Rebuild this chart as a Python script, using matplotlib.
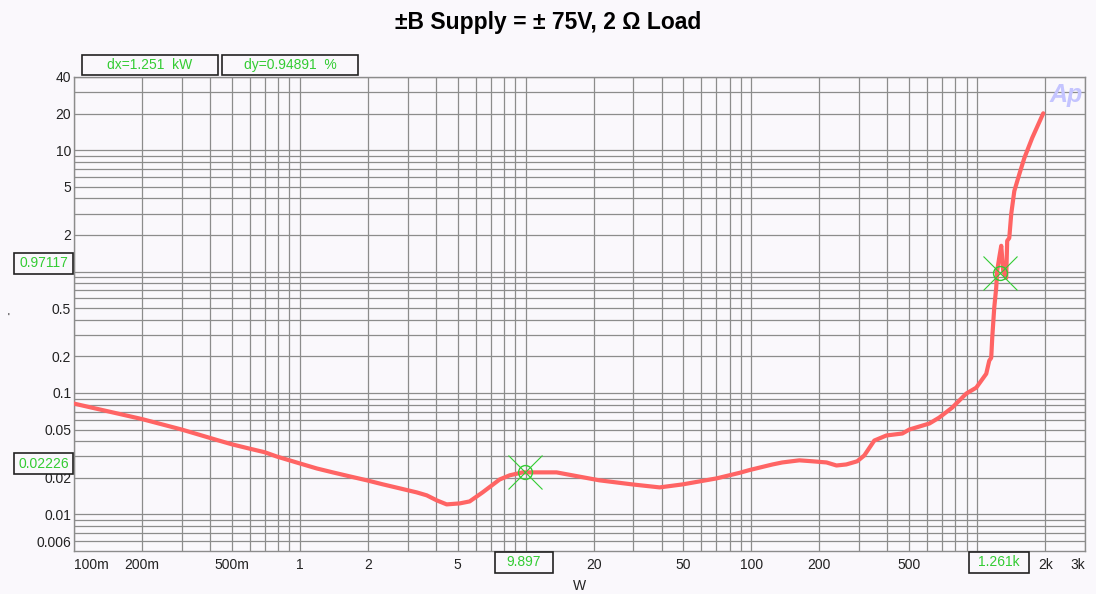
import matplotlib
matplotlib.use("Agg")
import matplotlib.pyplot as plt
from matplotlib.patches import Rectangle
from matplotlib.ticker import FixedLocator, FixedFormatter, NullFormatter

# ---------------- data ----------------
power_w = [0.1, 0.2, 0.3, 0.43, 0.5, 0.6, 0.7, 0.79, 1.0, 1.19, 1.40, 1.66, 1.98,
           2.33, 2.77, 3.29, 3.65, 4.04, 4.47, 5.11, 5.65, 6.45, 7.67, 8.5, 9.7,
           13.7, 21.2, 29.7, 39.2, 49.5, 70, 88.5, 98, 124, 137, 163, 186, 215,
           238, 263, 294, 316, 350, 396, 466, 500, 614, 679, 775, 894, 990, 1096,
           1130, 1153, 1165, 1189, 1213, 1225, 1251, 1277, 1303, 1343, 1357,
           1386, 1414, 1459, 1536, 1616, 1751, 1960]
thd_pct = [0.0818, 0.061, 0.050, 0.0410, 0.0378, 0.0348, 0.0325, 0.030, 0.0263,
           0.0239, 0.0222, 0.0206, 0.0191, 0.0177, 0.0164, 0.0152, 0.01436,
           0.01306, 0.0121, 0.01233, 0.0128, 0.0152, 0.0194, 0.0210, 0.0222,
           0.0222, 0.0191, 0.01767, 0.0167, 0.01767, 0.0198, 0.0220, 0.0232,
           0.0258, 0.0268, 0.0279, 0.0274, 0.0268, 0.0253, 0.0258, 0.0274,
           0.0306, 0.0406, 0.0447, 0.0464, 0.0500, 0.0561, 0.0628, 0.0759,
           0.0989, 0.1107, 0.144, 0.1845, 0.195, 0.285, 0.503, 0.734, 1.01,
           1.30, 1.63, 1.01, 0.887, 1.79, 1.89, 2.98, 4.60, 6.35, 8.6, 12.6, 20.1]

cursor_x = [9.897, 1261]
cursor_y = [0.02226, 0.97117]

x_ticks = [0.1, 0.2, 0.5, 1, 2, 5, 10, 20, 50, 100, 200, 500, 1000, 2000, 3000]
x_labels = ['100m', '200m', '500m', '1', '2', '5', '', '20', '50', '100', '200',
            '500', '', '2k', '3k']
y_ticks = [0.006, 0.01, 0.02, 0.05, 0.1, 0.2, 0.5, 1, 2, 5, 10, 20, 40]
y_labels = ['0.006', '0.01', '0.02', '0.05', '0.1', '0.2', '0.5', '', '2', '5',
            '10', '20', '40']

title = "±B Supply = ± 75V, 2 Ω Load"
dx_text = "dx=1.251  kW"
dy_text = "dy=0.94891  %"
cursor_labels_x = ["9.897", "1.261k"]
cursor_labels_y = ["0.02226", "0.97117"]

# ---------------- style ----------------
plt.rcParams['font.family'] = ['Liberation Sans', 'DejaVu Sans']
BG = '#FAF8FC'
GRID = '#8C8C8C'
RED = '#FF6464'
GREEN = '#33CC33'
W, H = 1096, 594

fig = plt.figure(figsize=(W / 100, H / 100), dpi=100, facecolor=BG)
ax = fig.add_axes([74 / W, 1 - 551 / H, (1085 - 74) / W, (551 - 77) / H])
ax.set_facecolor(BG)
ax.set_xscale('log')
ax.set_yscale('log')
ax.set_xlim(0.1, 3000)
ax.set_ylim(0.005, 40)

minor_x = [m * 10 ** e for e in range(-1, 4) for m in range(2, 10) if m * 10 ** e < 3000]
minor_y = [m * 10 ** e for e in range(-3, 2) for m in range(2, 10)
           if 0.005 < m * 10 ** e < 40]
ax.xaxis.set_major_locator(FixedLocator(x_ticks))
ax.xaxis.set_major_formatter(FixedFormatter(x_labels))
ax.xaxis.set_minor_locator(FixedLocator(minor_x))
ax.xaxis.set_minor_formatter(NullFormatter())
ax.yaxis.set_major_locator(FixedLocator(y_ticks))
ax.yaxis.set_major_formatter(FixedFormatter(y_labels))
ax.yaxis.set_minor_locator(FixedLocator(minor_y))
ax.yaxis.set_minor_formatter(NullFormatter())

ax.grid(which='both', color=GRID, lw=0.9)
ax.set_axisbelow(True)
ax.tick_params(which='both', length=0, labelsize=10, colors='#222222')
ax.tick_params(axis='x', pad=5)
ax.tick_params(axis='y', pad=2)
for s in ax.spines.values():
    s.set_color(GRID)
    s.set_linewidth(1.0)

xl = ax.get_xticklabels()
xl[0].set_ha('left')
xl[-1].set_ha('right')

ax.plot(power_w, thd_pct, color=RED, lw=3, solid_capstyle='round', zorder=3)

# cursors
ax.plot(cursor_x, cursor_y, linestyle='none', marker='x', markersize=24,
        markeredgewidth=0.8, color=GREEN, zorder=4)
ax.plot(cursor_x, cursor_y, linestyle='none', marker='o', markersize=10,
        markerfacecolor='none', markeredgewidth=1.0, markeredgecolor=GREEN, zorder=4)

ax.set_xlabel('W', fontsize=10, labelpad=5, color='#222222')

# Ap logo
ax.text(0.981, 0.962, 'Ap', transform=ax.transAxes, ha='center', va='center',
        fontsize=18, fontweight='heavy', fontstyle='italic', color='#C4C4FF',
        zorder=2)

fig.text(0.5, 1 - 23 / H, title, ha='center', va='center', fontsize=16.5,
         fontweight='bold')
fig.text(8 / W, 1 - 318 / H, "'", ha='center', va='center', fontsize=7)


def box(x0, y0, x1, y1, txt):
    r = Rectangle((x0 / W, 1 - y1 / H), (x1 - x0) / W, (y1 - y0) / H,
                  transform=fig.transFigure, facecolor=BG, edgecolor='#222222',
                  lw=1.2, zorder=10)
    fig.add_artist(r)
    fig.text((x0 + x1) / 2 / W, 1 - (y0 + y1) / 2 / H, txt, ha='center',
             va='center', fontsize=10, color=GREEN, zorder=11)


box(82, 55, 218, 75, dx_text)
box(222, 55, 358, 75, dy_text)
box(14, 253, 73, 274, cursor_labels_y[1])
box(14, 453, 73, 474, cursor_labels_y[0])
box(495, 552, 553, 573, cursor_labels_x[0])
box(969, 552, 1029, 573, cursor_labels_x[1])

fig.savefig('out.png', dpi=100, facecolor=BG)
